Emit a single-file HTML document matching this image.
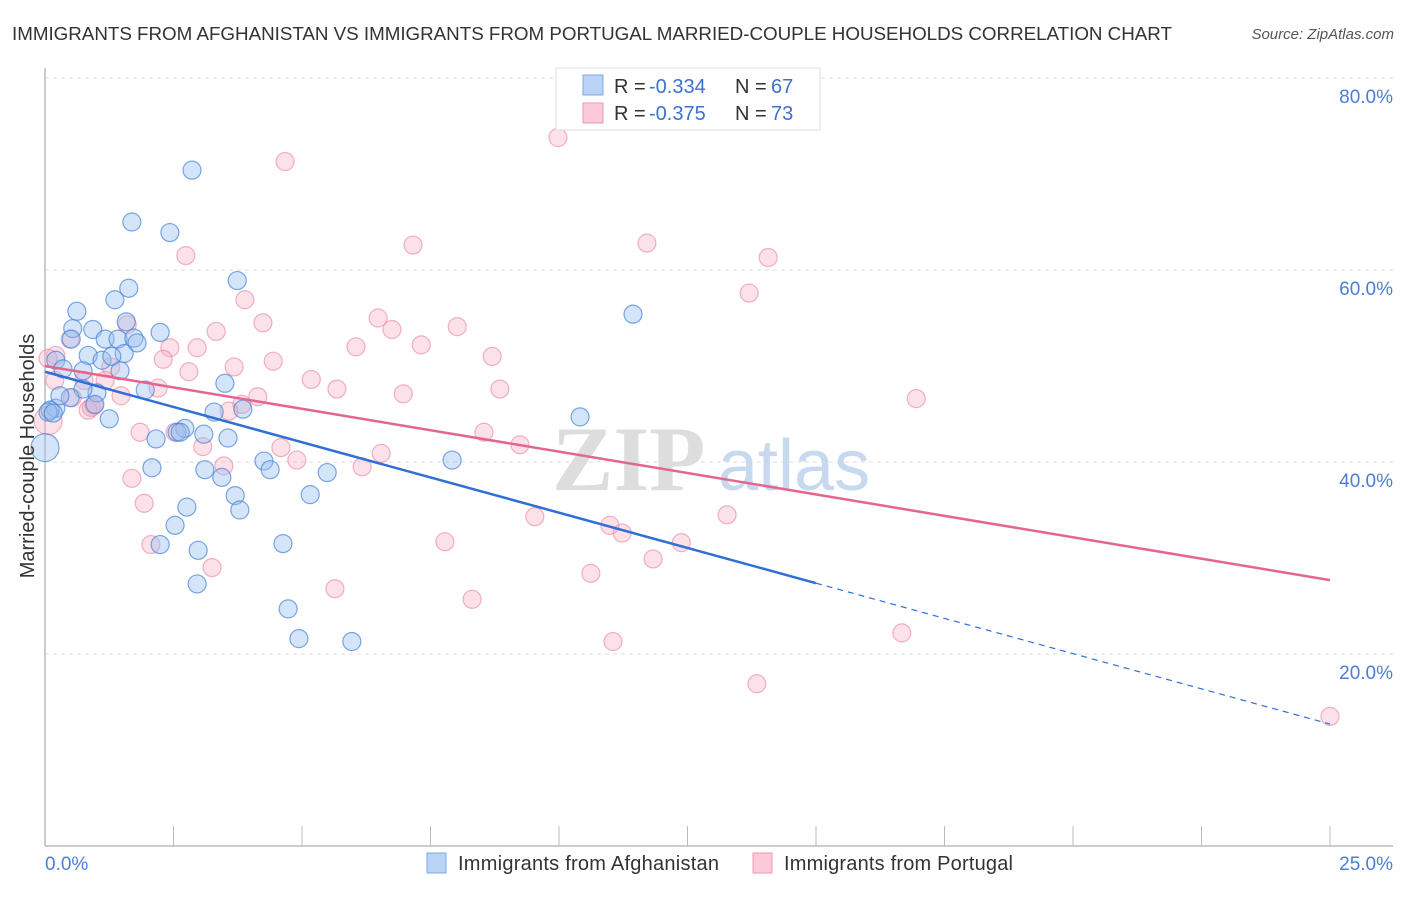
<!DOCTYPE html>
<html><head><meta charset="utf-8"><style>
body{margin:0;background:#fff;font-family:"Liberation Sans",sans-serif}
</style></head><body>
<svg width="1406" height="892" viewBox="0 0 1406 892" xmlns="http://www.w3.org/2000/svg">
<text x="12" y="40" font-size="18.8" fill="#333" textLength="1160">IMMIGRANTS FROM AFGHANISTAN VS IMMIGRANTS FROM PORTUGAL MARRIED-COUPLE HOUSEHOLDS CORRELATION CHART</text>
<text x="1394" y="39" font-size="15" fill="#555" font-style="italic" text-anchor="end">Source: ZipAtlas.com</text>
<g id="grid"></g>
<g><text x="552" y="490" font-size="92" font-family="Liberation Serif,serif" fill="#ddd" font-weight="bold">ZIP</text><text x="718" y="490" font-size="72" fill="#c7d9ef">atlas</text></g>
<g id="marks"></g>
<text transform="translate(34,456) rotate(-90)" font-size="20" fill="#333" text-anchor="middle">Married-couple Households</text>
<text x="45" y="870" font-size="19" fill="#4a7fd4">0.0%</text>
<text x="1393" y="870" font-size="19" fill="#4a7fd4" text-anchor="end">25.0%</text>
<g>
<rect x="427" y="853" width="19" height="20" fill="#b8d3f5" stroke="#7fa8e0"/>
<text x="458" y="870" font-size="20" fill="#333" textLength="261">Immigrants from Afghanistan</text>
<rect x="753" y="853" width="19" height="20" fill="#fbc9d7" stroke="#e899b0"/>
<text x="784" y="870" font-size="20" fill="#333" textLength="229">Immigrants from Portugal</text>
</g>
<g font-size="20">
<rect x="556" y="68" width="264" height="62" fill="#fff" stroke="#ddd"/>
<rect x="583" y="75" width="20" height="20" fill="#b8d3f5" stroke="#7fa8e0"/>
<rect x="583" y="103" width="20" height="20" fill="#fbc9d7" stroke="#e899b0"/>
<text x="614" y="93" fill="#333">R =</text><text x="649" y="93" fill="#3b72d0">-0.334</text><text x="735" y="93" fill="#333">N =</text><text x="771" y="93" fill="#3b72d0">67</text>
<text x="614" y="120" fill="#333">R =</text><text x="649" y="120" fill="#3b72d0">-0.375</text><text x="735" y="120" fill="#333">N =</text><text x="771" y="120" fill="#3b72d0">73</text>
</g>
</svg>
<script>
const yTicks=[20,40,60,80];
const xTicks=[0,2.5,5,7.5,10,12.5,15,17.5,20,22.5,25];
const blueX=[2.86,1.69,2.43,3.74,1.63,1.36,0.62,1.58,0.54,0.93,2.24,0.51,1.17,1.42,1.73,1.79,0.84,1.11,1.54,1.30,0.21,0.35,0.74,1.46,3.50,1.95,1.01,0.74,0.49,0.97,0.21,0.10,1.25,3.29,3.85,2.72,2.57,3.09,3.56,2.16,0,4.26,4.38,2.08,3.11,5.49,7.92,10.41,11.44,3.44,3.70,5.16,2.76,3.79,2.53,2.24,4.63,2.98,2.96,4.73,4.94,5.97,0.06,0.29,2.63,0.16];
const blueY=[70.4,65.0,63.9,58.9,58.1,56.9,55.7,54.6,53.9,53.8,53.5,52.8,52.8,52.8,52.9,52.4,51.1,50.6,51.3,51.0,50.6,49.7,49.5,49.5,48.2,47.5,47.2,47.6,46.7,46.0,45.6,45.4,44.5,45.2,45.5,43.5,43.1,42.9,42.5,42.4,41.5,40.1,39.2,39.4,39.2,38.9,40.2,44.7,55.4,38.4,36.5,36.6,35.3,35.0,33.4,31.4,31.5,30.8,27.3,24.7,21.6,21.3,45.2,46.9,43.1,45.1];
const pinkX=[9.98,4.67,11.71,7.16,14.07,2.74,13.70,3.89,6.48,4.24,3.33,6.75,8.02,1.60,0.49,6.05,7.32,2.96,2.43,8.70,0.21,4.44,2.30,3.68,2.80,1.28,5.18,0.76,1.17,5.68,8.85,2.20,1.48,6.97,4.14,0.95,3.83,16.95,3.58,0.84,0.06,8.54,1.85,2.53,3.07,9.24,6.54,4.59,4.90,3.48,6.17,1.69,1.93,9.53,13.27,10.99,11.23,7.78,2.06,12.38,11.83,3.25,10.62,5.64,8.31,11.05,16.67,13.85,25.0,0.06,0.53,0.19,0.90];
const pinkY=[73.8,71.3,62.8,62.6,61.3,61.5,57.6,56.9,55.0,54.5,53.6,53.8,54.1,54.3,52.8,52.0,52.2,51.9,51.9,51.0,51.1,50.5,50.7,49.9,49.4,49.9,48.6,48.5,48.5,47.6,47.6,47.7,46.9,47.1,46.8,45.9,46.0,46.6,45.3,45.4,44.3,43.1,43.1,43.1,41.6,41.8,40.9,41.5,40.2,39.6,39.5,38.3,35.7,34.3,34.5,33.4,32.6,31.7,31.4,31.6,29.9,29.0,28.4,26.8,25.7,21.3,22.2,16.9,13.5,50.8,46.7,48.5,45.7];
const blueTrend=[49.4,12.7]; const blueSolidEnd=15.0;
const pinkTrend=[50.0,27.7];
const X=v=>45+v/25*1285, Y=v=>846-v/20*192;
const NS='http://www.w3.org/2000/svg';
function mk(t,a,p){const e=document.createElementNS(NS,t);for(const k in a)e.setAttribute(k,a[k]);p.appendChild(e);return e;}
const grid=document.getElementById('grid'),marks=document.getElementById('marks');
mk('line',{x1:45,y1:68,x2:45,y2:846,stroke:'#bbb','stroke-width':1.5},grid);
const xa=mk('line',{x1:45,y1:846,x2:1393,y2:846,stroke:'#bbb','stroke-width':1.5},grid);

yTicks.forEach(t=>{
 const l=mk('line',{x1:45,x2:1393,y1:Y(t),y2:Y(t),stroke:'#ddd','stroke-dasharray':'4,4'},grid);
 
 
 const s=mk('text',{x:1393,y:Y(t)+25,'font-size':19,fill:'#4a7fd4','text-anchor':'end'},grid);
 s.textContent=t.toFixed(1)+'%';
 
 
});
xTicks.forEach(t=>{
 const l=mk('line',{x1:X(t),x2:X(t),y1:826,y2:846,stroke:'#bbb'},grid);
 
 
});
function pts(xs,ys,fill,stroke,name){xs.forEach((x,i)=>{
 const r=(x===0||x===0.06)&&(ys[i]>40&&ys[i]<45)?14:9;
 const c=mk('circle',{cx:X(x),cy:Y(ys[i]),r:r,fill:fill,stroke:stroke,'stroke-width':1.2},marks);
 
 
});}
pts(pinkX,pinkY,'rgba(246,170,192,0.35)','rgba(232,130,160,0.6)','point-portugal');
pts(blueX,blueY,'rgba(150,190,240,0.4)','rgba(70,130,215,0.7)','point-afghanistan');
const by=x=>blueTrend[0]+(blueTrend[1]-blueTrend[0])*x/25;
const b1=mk('line',{x1:X(0),y1:Y(by(0)),x2:X(blueSolidEnd),y2:Y(by(blueSolidEnd)),stroke:'#2f6fd6','stroke-width':2.5},marks);


const b2=mk('line',{x1:X(blueSolidEnd),y1:Y(by(blueSolidEnd)),x2:X(25),y2:Y(by(25)),stroke:'#2f6fd6','stroke-width':1.2,'stroke-dasharray':'6,5'},marks);


const p1=mk('line',{x1:X(0),y1:Y(pinkTrend[0]),x2:X(25),y2:Y(pinkTrend[1]),stroke:'#e5658f','stroke-width':2.5},marks);


</script>
</body></html>
